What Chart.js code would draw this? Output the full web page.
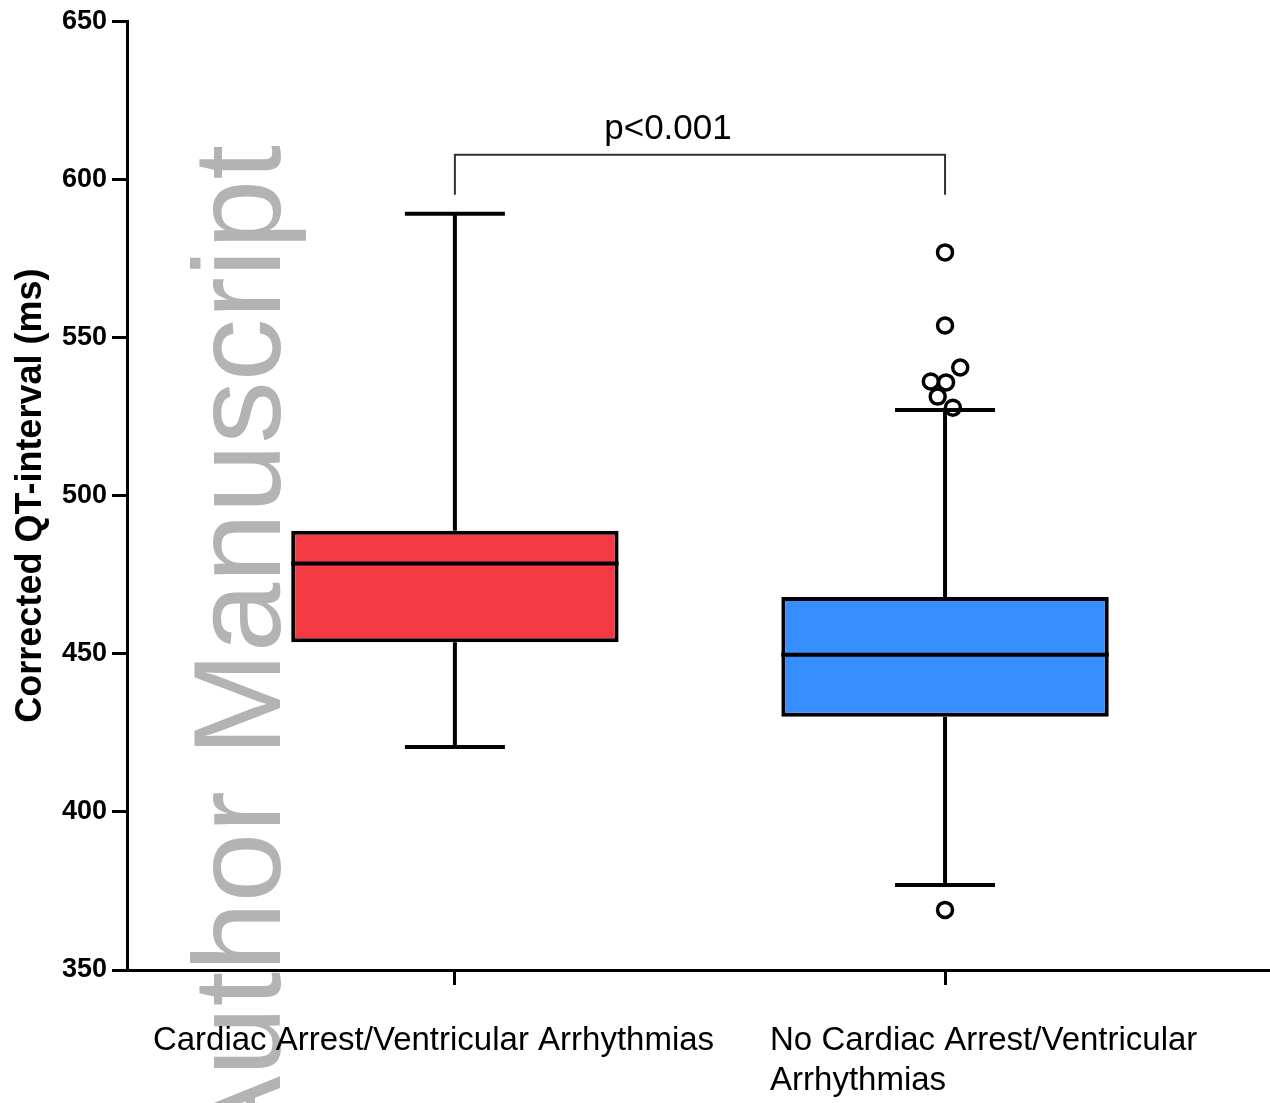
<!DOCTYPE html>
<html><head><meta charset="utf-8">
<script src="https://cdn.jsdelivr.net/npm/chart.js@4.4.1/dist/chart.umd.min.js"></script>
<style>html,body{margin:0;padding:0;background:#fff;overflow:hidden}canvas{display:block}</style>
</head><body>
<canvas id="c" width="1270" height="1103"></canvas>
<script>
// ---- data ----
const categories = ['Cardiac Arrest/Ventricular Arrhythmias', 'No Cardiac Arrest/Ventricular Arrhythmias'];
const categoryLabelLines = [['Cardiac Arrest/Ventricular Arrhythmias'], ['No Cardiac Arrest/Ventricular', 'Arrhythmias']];
const whiskerLow  = [420.5, 376.9];
const q1          = [453.6, 430.1];
const median      = [478.5, 449.7];
const q3          = [488.9, 467.9];
const whiskerHigh = [589.1, 527.1];
const outlierGroup  = [1, 1, 1, 1, 1, 1, 1, 1];
const outlierValues = [576.9, 553.8, 540.5, 536.1, 535.8, 531.3, 527.8, 369.0];
const outlierJitter = [0, 0, 0.031, -0.029, 0.002, -0.015, 0.016, 0];
const yTicks = [350, 400, 450, 500, 550, 600, 650];
const pLabel = 'p<0.001';
const bracketTop = 607.8;
const bracketFoot = 595.1;
const yTitle = 'Corrected QT-interval (ms)';
const watermark = 'Author Manuscript';
const boxColors = ['#F43B43', '#378EFF'];

// ---- styling ----
const FONT = "'Liberation Sans', Arial, Helvetica, sans-serif";
Chart.defaults.font.family = FONT;
const BAR_PCT = 0.668;
const CAP_HALF = 0.102;
const LW = 4;

function seg(x1, y1, x2, y2, color, width, order) {
  return { type: 'line', data: [{x: x1, y: y1}, {x: x2, y: y2}], borderColor: color, borderWidth: width,
           pointRadius: 0, pointHoverRadius: 0, fill: false, tension: 0, order: order, borderCapStyle: 'butt' };
}

const datasets = [];
datasets.push({
  type: 'bar',
  data: categories.map((c, i) => ({x: i, y: [q1[i], q3[i]]})),
  backgroundColor: boxColors,
  borderColor: '#000',
  borderWidth: LW,
  borderSkipped: false,
  barPercentage: BAR_PCT,
  categoryPercentage: 1,
  order: 2
});
categories.forEach((c, i) => {
  datasets.push(seg(i - CAP_HALF, whiskerHigh[i], i + CAP_HALF, whiskerHigh[i], '#000', LW, 3));
  datasets.push(seg(i, whiskerHigh[i], i, q3[i], '#000', LW, 3));
  datasets.push(seg(i, q1[i], i, whiskerLow[i], '#000', LW, 3));
  datasets.push(seg(i - CAP_HALF, whiskerLow[i], i + CAP_HALF, whiskerLow[i], '#000', LW, 3));
  datasets.push(seg(i - BAR_PCT / 2, median[i], i + BAR_PCT / 2, median[i], '#000', LW, 1));
});
datasets.push({
  type: 'line',
  data: outlierValues.map((v, k) => ({x: outlierGroup[k] + outlierJitter[k], y: v})),
  showLine: false,
  pointRadius: 7.5,
  pointHoverRadius: 7.5,
  pointBorderWidth: 3.5,
  pointBackgroundColor: 'rgba(255,255,255,0)',
  pointBorderColor: '#000',
  order: 0
});
datasets.push({
  type: 'line',
  data: [{x: 0, y: bracketFoot}, {x: 0, y: bracketTop}, {x: 1, y: bracketTop}, {x: 1, y: bracketFoot}],
  borderColor: '#333', borderWidth: 2, pointRadius: 0, tension: 0, fill: false, order: 0
});

const decor = {
  id: 'decor',
  beforeDraw(chart) {
    const ctx = chart.ctx;
    ctx.save();
    ctx.fillStyle = '#fff';
    ctx.fillRect(0, 0, chart.width, chart.height);
    ctx.translate(280, 145);
    ctx.rotate(-Math.PI / 2);
    ctx.font = '125px ' + FONT;
    ctx.fillStyle = 'rgb(179,179,179)';
    ctx.textAlign = 'right';
    ctx.textBaseline = 'alphabetic';
    ctx.fillText(watermark, 0, 0);
    ctx.restore();
  },
  afterDraw(chart) {
    const ctx = chart.ctx, xs = chart.scales.x, ys = chart.scales.y;
    ctx.save();
    ctx.fillStyle = '#000';
    ctx.font = '33px ' + FONT;
    ctx.textAlign = 'left';
    ctx.textBaseline = 'alphabetic';
    const shift = [-302, -175];
    categoryLabelLines.forEach((lines, i) => {
      const left = xs.getPixelForValue(i) + shift[i];
      lines.forEach((ln, k) => ctx.fillText(ln, left, xs.top + 80 + k * 40));
    });
    ctx.font = '35px ' + FONT;
    ctx.textAlign = 'center';
    ctx.fillText(pLabel, xs.getPixelForValue(0.5) - 32, ys.getPixelForValue(bracketTop) - 16);
    ctx.restore();
  }
};

new Chart(document.getElementById('c'), {
  type: 'bar',
  data: { datasets },
  options: {
    responsive: false,
    animation: false,
    devicePixelRatio: 1,
    layout: { autoPadding: false, padding: { left: 6, top: 21, right: 0, bottom: 0 } },
    plugins: { legend: { display: false }, tooltip: { enabled: false } },
    scales: {
      x: {
        type: 'linear',
        min: -0.669, max: 1.663,
        offset: false,
        afterBuildTicks: s => { s.ticks = categories.map((c, i) => ({value: i})); },
        ticks: { display: false },
        grid: { offset: false, drawOnChartArea: false, drawTicks: true, tickLength: 15, tickWidth: 3, tickColor: '#000' },
        border: { display: true, color: '#000', width: 3 },
        afterFit: s => { s.height = 133; }
      },
      y: {
        type: 'linear',
        min: 350, max: 650,
        afterBuildTicks: s => { s.ticks = yTicks.map(v => ({value: v})); },
        ticks: { color: '#000', font: { size: 27, weight: 'bold' }, padding: 5 },
        grid: { drawOnChartArea: false, drawTicks: true, tickLength: 15, tickWidth: 3, tickColor: '#000' },
        border: { display: true, color: '#000', width: 3 },
        title: { display: true, text: yTitle, color: '#000', font: { size: 36, weight: 'bold' }, padding: { top: 3, bottom: 0 } },
        afterFit: s => { s.width = 121; }
      }
    }
  },
  plugins: [decor]
});
</script>
</body></html>
